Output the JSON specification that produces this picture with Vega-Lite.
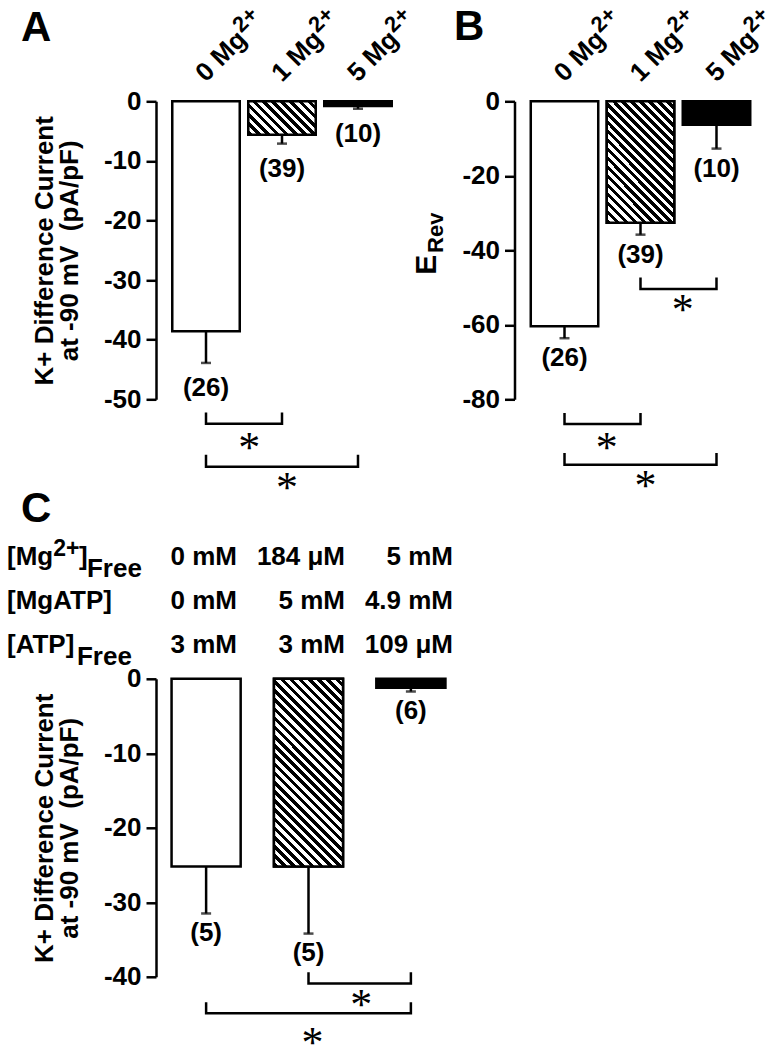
{
"$schema":"https://vega.github.io/schema/vega-lite/v6.json",
"background":"white",
"padding":{"left":7,"top":2.3,"right":0,"bottom":0},
"autosize":{"type":"pad"},
"config":{
 "view":{"stroke":null},
 "font":"Liberation Sans",
 "text":{"font":"Liberation Sans","fontWeight":"bold","fontSize":26,"color":"black"},
 "axis":{"domainColor":"black","domainWidth":2.5,"tickColor":"black","tickWidth":2.5,"tickSize":10,"labelFont":"Liberation Sans","labelFontWeight":"bold","labelFontSize":26,"labelColor":"black","labelPadding":5,"titleFont":"Liberation Sans","titleFontWeight":"bold","titleFontSize":26,"titleColor":"black","titleLineHeight":25,"titlePadding":21,"grid":false,"labelExpr":"'' + datum.value"},
 "title":{"font":"Liberation Sans","fontWeight":"bold","fontSize":42,"color":"black","anchor":"start","frame":"group","offset":0,"baseline":"alphabetic"}
},
"datasets":{
 "barsA":[{"c":"0 Mg","v":-38.6,"lo":-43.9,"n":"(26)"},{"c":"1 Mg","v":-5.6,"lo":-7.1,"n":"(39)"},{"c":"5 Mg","v":-0.8,"lo":-1.25,"n":"(10)"}],
 "barsB":[{"c":"0 Mg","v":-60.4,"lo":-63.6,"n":"(26)"},{"c":"1 Mg","v":-32.6,"lo":-35.8,"n":"(39)"},{"c":"5 Mg","v":-6.3,"lo":-12.7,"n":"(10)"}],
 "barsC":[{"c":"0 mM","v":-25.2,"lo":-31.5,"n":"(5)"},{"c":"184 μM","v":-25.2,"lo":-34.2,"n":"(5)"},{"c":"5 mM","v":-1.2,"lo":-1.7,"n":"(6)"}],
 "brA":[{"id":"a1","o":1,"c":"0 Mg","v":-52.2},{"id":"a1","o":2,"c":"0 Mg","v":-54.1},{"id":"a1","o":3,"c":"1 Mg","v":-54.1},{"id":"a1","o":4,"c":"1 Mg","v":-52.2},
        {"id":"a2","o":1,"c":"0 Mg","v":-59.3},{"id":"a2","o":2,"c":"0 Mg","v":-61.3},{"id":"a2","o":3,"c":"5 Mg","v":-61.3},{"id":"a2","o":4,"c":"5 Mg","v":-59.3}],
 "brB":[{"id":"b1","o":1,"c":"0 Mg","v":-83.7},{"id":"b1","o":2,"c":"0 Mg","v":-86.6},{"id":"b1","o":3,"c":"1 Mg","v":-86.6},{"id":"b1","o":4,"c":"1 Mg","v":-83.7},
        {"id":"b2","o":1,"c":"0 Mg","v":-94.4},{"id":"b2","o":2,"c":"0 Mg","v":-97.6},{"id":"b2","o":3,"c":"5 Mg","v":-97.6},{"id":"b2","o":4,"c":"5 Mg","v":-94.4},
        {"id":"b3","o":1,"c":"1 Mg","v":-47.3},{"id":"b3","o":2,"c":"1 Mg","v":-50.4},{"id":"b3","o":3,"c":"5 Mg","v":-50.4},{"id":"b3","o":4,"c":"5 Mg","v":-47.3}],
 "brC":[{"id":"c1","o":1,"c":"184 μM","v":-39.4},{"id":"c1","o":2,"c":"184 μM","v":-40.9},{"id":"c1","o":3,"c":"5 mM","v":-40.9},{"id":"c1","o":4,"c":"5 mM","v":-39.4},
        {"id":"c2","o":1,"c":"0 mM","v":-43.4},{"id":"c2","o":2,"c":"0 mM","v":-44.9},{"id":"c2","o":3,"c":"5 mM","v":-44.9},{"id":"c2","o":4,"c":"5 mM","v":-43.4}],
 "stA":[{"c":"1 Mg","v":-57.1,"k":"adj"},{"c":"1 Mg","v":-63.7,"k":"wide"}],
 "stB":[{"c":"1 Mg","v":-91.4,"k":"adj"},{"c":"1 Mg","v":-101.6,"k":"wide"},{"c":"5 Mg","v":-54.1,"k":"adj"}],
 "stC":[{"c":"5 mM","v":-42.9,"k":"adj"},{"c":"184 μM","v":-48.0,"k":"wide"}],
 "tableC":[{"c":"0 mM","row":"Mg","t":"0 mM"},{"c":"184 μM","row":"Mg","t":"184 μM"},{"c":"5 mM","row":"Mg","t":"5 mM"},
           {"c":"0 mM","row":"MgATP","t":"0 mM"},{"c":"184 μM","row":"MgATP","t":"5 mM"},{"c":"5 mM","row":"MgATP","t":"4.9 mM"},
           {"c":"0 mM","row":"ATP","t":"3 mM"},{"c":"184 μM","row":"ATP","t":"3 mM"},{"c":"5 mM","row":"ATP","t":"109 μM"}],
 "rowC":[{"c":"0 mM","row":"Mg","part":"main","t":"[Mg"},{"c":"0 mM","row":"Mg","part":"sup","t":"2+"},{"c":"0 mM","row":"Mg","part":"close","t":"]"},{"c":"0 mM","row":"Mg","part":"sub","t":"Free"},
         {"c":"0 mM","row":"MgATP","part":"main","t":"[MgATP]"},{"c":"0 mM","row":"ATP","part":"main","t":"[ATP]"},{"c":"0 mM","row":"ATP","part":"sub","t":"Free"}]
},
"columns":2,
"bounds":"flush",
"align":"none",
"spacing":{"row":279.5,"column":53.5},
"concat":[
 {
  "width":252,"height":298,
  "title":{"text":"A","dx":-135,"dy":51.3},
  "layer":[
   {"data":{"name":"barsA"},"mark":{"type":"bar","stroke":"black","strokeWidth":2.5},
    "encoding":{
     "x":{"field":"c","type":"nominal","scale":{"type":"band","domain":["0 Mg","1 Mg","5 Mg"],"paddingInner":0.112,"paddingOuter":0.214},"axis":null},
     "y":{"field":"v","type":"quantitative","scale":{"domain":[-50,0],"nice":false},"axis":{"values":[-50,-40,-30,-20,-10,0],"title":["K+ Difference Current","at -90 mV\u00a0 (pA/pF)"]}},
     "fill":{"condition":{"test":"datum.c === '5 Mg'","value":"black"},"value":"white"}}},
   {"data":{"name":"barsA"},"transform":[{"filter":"datum.c === '1 Mg'"}],
    "mark":{"type":"bar","stroke":"black","strokeWidth":2.5,"fill":{"gradient":"linear","x1":0,"y1":1,"x2":1.2008,"y2":0.4058,"stops":[
{"offset":0,"color":"#000"},{"offset":0.0455,"color":"#000"},{"offset":0.0455,"color":"#fff"},{"offset":0.0909,"color":"#fff"},
{"offset":0.0909,"color":"#000"},{"offset":0.1364,"color":"#000"},{"offset":0.1364,"color":"#fff"},{"offset":0.1818,"color":"#fff"},
{"offset":0.1818,"color":"#000"},{"offset":0.2273,"color":"#000"},{"offset":0.2273,"color":"#fff"},{"offset":0.2727,"color":"#fff"},
{"offset":0.2727,"color":"#000"},{"offset":0.3182,"color":"#000"},{"offset":0.3182,"color":"#fff"},{"offset":0.3636,"color":"#fff"},
{"offset":0.3636,"color":"#000"},{"offset":0.4091,"color":"#000"},{"offset":0.4091,"color":"#fff"},{"offset":0.4545,"color":"#fff"},
{"offset":0.4545,"color":"#000"},{"offset":0.5,"color":"#000"},{"offset":0.5,"color":"#fff"},{"offset":0.5455,"color":"#fff"},
{"offset":0.5455,"color":"#000"},{"offset":0.5909,"color":"#000"},{"offset":0.5909,"color":"#fff"},{"offset":0.6364,"color":"#fff"},
{"offset":0.6364,"color":"#000"},{"offset":0.6818,"color":"#000"},{"offset":0.6818,"color":"#fff"},{"offset":0.7273,"color":"#fff"},
{"offset":0.7273,"color":"#000"},{"offset":0.7727,"color":"#000"},{"offset":0.7727,"color":"#fff"},{"offset":0.8182,"color":"#fff"},
{"offset":0.8182,"color":"#000"},{"offset":0.8636,"color":"#000"},{"offset":0.8636,"color":"#fff"},{"offset":0.9091,"color":"#fff"},
{"offset":0.9091,"color":"#000"},{"offset":0.9545,"color":"#000"},{"offset":0.9545,"color":"#fff"},{"offset":1,"color":"#fff"}]}},
    "encoding":{"x":{"field":"c","type":"nominal"},"y":{"field":"v","type":"quantitative"}}},
   {"data":{"name":"barsA"},"mark":{"type":"rule","strokeWidth":2.5,"color":"black"},"encoding":{"x":{"field":"c","type":"nominal"},"y":{"field":"v","type":"quantitative"},"y2":{"field":"lo"}}},
   {"data":{"name":"barsA"},"mark":{"type":"tick","size":10,"thickness":2.5,"color":"black"},"encoding":{"x":{"field":"c","type":"nominal"},"y":{"field":"lo","type":"quantitative"}}},
   {"data":{"name":"barsA"},"mark":{"type":"text","baseline":"top","dy":12},"encoding":{"x":{"field":"c","type":"nominal"},"y":{"field":"lo","type":"quantitative"},"text":{"field":"n"}}},
   {"data":{"name":"brA"},"mark":{"type":"line","strokeWidth":2.5,"color":"black","strokeJoin":"miter"},"encoding":{"x":{"field":"c","type":"nominal"},"y":{"field":"v","type":"quantitative"},"detail":{"field":"id"},"order":{"field":"o"}}},
   {"data":{"name":"stA"},"transform":[{"filter":"datum.k === 'adj'"}],"mark":{"type":"text","font":"Liberation Serif","fontWeight":"normal","fontSize":44,"baseline":"alphabetic","dy":20.7,"dx":1},"encoding":{"x":{"field":"c","type":"nominal","bandPosition":0},"y":{"field":"v","type":"quantitative"},"text":{"value":"*"}}},
   {"data":{"name":"stA"},"transform":[{"filter":"datum.k === 'wide'"}],"mark":{"type":"text","font":"Liberation Serif","fontWeight":"normal","fontSize":44,"baseline":"alphabetic","dy":20.7,"dx":5},"encoding":{"x":{"field":"c","type":"nominal"},"y":{"field":"v","type":"quantitative"},"text":{"value":"*"}}},
   {"data":{"name":"barsA"},"mark":{"type":"text","angle":315,"align":"left","baseline":"alphabetic","fontSize":26,"dx":13,"dy":-13},"encoding":{"x":{"field":"c","type":"nominal"},"y":{"datum":0,"type":"quantitative"},"text":{"field":"c"}}},
   {"data":{"name":"barsA"},"mark":{"type":"text","angle":315,"align":"left","baseline":"alphabetic","fontSize":22,"dx":73,"dy":-23},"encoding":{"x":{"field":"c","type":"nominal"},"y":{"datum":0,"type":"quantitative"},"text":{"value":"2+"}}}
  ]
 },
 {
  "width":252,"height":298,
  "title":{"text":"B","dx":-60.5,"dy":50.3},
  "layer":[
   {"data":{"name":"barsB"},"mark":{"type":"bar","stroke":"black","strokeWidth":2.5},
    "encoding":{
     "x":{"field":"c","type":"nominal","scale":{"type":"band","domain":["0 Mg","1 Mg","5 Mg"],"paddingInner":0.112,"paddingOuter":0.214},"axis":null},
     "y":{"field":"v","type":"quantitative","scale":{"domain":[-80,0],"nice":false},"axis":{"values":[-80,-60,-40,-20,0],"title":null}},
     "fill":{"condition":{"test":"datum.c === '5 Mg'","value":"black"},"value":"white"}}},
   {"data":{"name":"barsB"},"transform":[{"filter":"datum.c === '1 Mg'"}],
    "mark":{"type":"bar","stroke":"black","strokeWidth":2.5,"fill":{"gradient":"linear","x1":0,"y1":1,"x2":0.6609,"y2":-0.1886,"stops":[
{"offset":0,"color":"#000"},{"offset":0.0238,"color":"#000"},{"offset":0.0238,"color":"#fff"},{"offset":0.0476,"color":"#fff"},
{"offset":0.0476,"color":"#000"},{"offset":0.0714,"color":"#000"},{"offset":0.0714,"color":"#fff"},{"offset":0.0952,"color":"#fff"},
{"offset":0.0952,"color":"#000"},{"offset":0.1190,"color":"#000"},{"offset":0.1190,"color":"#fff"},{"offset":0.1429,"color":"#fff"},
{"offset":0.1429,"color":"#000"},{"offset":0.1667,"color":"#000"},{"offset":0.1667,"color":"#fff"},{"offset":0.1905,"color":"#fff"},
{"offset":0.1905,"color":"#000"},{"offset":0.2143,"color":"#000"},{"offset":0.2143,"color":"#fff"},{"offset":0.2381,"color":"#fff"},
{"offset":0.2381,"color":"#000"},{"offset":0.2619,"color":"#000"},{"offset":0.2619,"color":"#fff"},{"offset":0.2857,"color":"#fff"},
{"offset":0.2857,"color":"#000"},{"offset":0.3095,"color":"#000"},{"offset":0.3095,"color":"#fff"},{"offset":0.3333,"color":"#fff"},
{"offset":0.3333,"color":"#000"},{"offset":0.3571,"color":"#000"},{"offset":0.3571,"color":"#fff"},{"offset":0.3810,"color":"#fff"},
{"offset":0.3810,"color":"#000"},{"offset":0.4048,"color":"#000"},{"offset":0.4048,"color":"#fff"},{"offset":0.4286,"color":"#fff"},
{"offset":0.4286,"color":"#000"},{"offset":0.4524,"color":"#000"},{"offset":0.4524,"color":"#fff"},{"offset":0.4762,"color":"#fff"},
{"offset":0.4762,"color":"#000"},{"offset":0.5,"color":"#000"},{"offset":0.5,"color":"#fff"},{"offset":0.5238,"color":"#fff"},
{"offset":0.5238,"color":"#000"},{"offset":0.5476,"color":"#000"},{"offset":0.5476,"color":"#fff"},{"offset":0.5714,"color":"#fff"},
{"offset":0.5714,"color":"#000"},{"offset":0.5952,"color":"#000"},{"offset":0.5952,"color":"#fff"},{"offset":0.6190,"color":"#fff"},
{"offset":0.6190,"color":"#000"},{"offset":0.6429,"color":"#000"},{"offset":0.6429,"color":"#fff"},{"offset":0.6667,"color":"#fff"},
{"offset":0.6667,"color":"#000"},{"offset":0.6905,"color":"#000"},{"offset":0.6905,"color":"#fff"},{"offset":0.7143,"color":"#fff"},
{"offset":0.7143,"color":"#000"},{"offset":0.7381,"color":"#000"},{"offset":0.7381,"color":"#fff"},{"offset":0.7619,"color":"#fff"},
{"offset":0.7619,"color":"#000"},{"offset":0.7857,"color":"#000"},{"offset":0.7857,"color":"#fff"},{"offset":0.8095,"color":"#fff"},
{"offset":0.8095,"color":"#000"},{"offset":0.8333,"color":"#000"},{"offset":0.8333,"color":"#fff"},{"offset":0.8571,"color":"#fff"},
{"offset":0.8571,"color":"#000"},{"offset":0.8810,"color":"#000"},{"offset":0.8810,"color":"#fff"},{"offset":0.9048,"color":"#fff"},
{"offset":0.9048,"color":"#000"},{"offset":0.9286,"color":"#000"},{"offset":0.9286,"color":"#fff"},{"offset":0.9524,"color":"#fff"},
{"offset":0.9524,"color":"#000"},{"offset":0.9762,"color":"#000"},{"offset":0.9762,"color":"#fff"},{"offset":1,"color":"#fff"}]}},
    "encoding":{"x":{"field":"c","type":"nominal"},"y":{"field":"v","type":"quantitative"}}},
   {"data":{"name":"barsB"},"mark":{"type":"rule","strokeWidth":2.5,"color":"black"},"encoding":{"x":{"field":"c","type":"nominal"},"y":{"field":"v","type":"quantitative"},"y2":{"field":"lo"}}},
   {"data":{"name":"barsB"},"mark":{"type":"tick","size":10,"thickness":2.5,"color":"black"},"encoding":{"x":{"field":"c","type":"nominal"},"y":{"field":"lo","type":"quantitative"}}},
   {"data":{"name":"barsB"},"mark":{"type":"text","baseline":"top","dy":7},"encoding":{"x":{"field":"c","type":"nominal"},"y":{"field":"lo","type":"quantitative"},"text":{"field":"n"}}},
   {"data":{"name":"brB"},"mark":{"type":"line","strokeWidth":2.5,"color":"black","strokeJoin":"miter"},"encoding":{"x":{"field":"c","type":"nominal"},"y":{"field":"v","type":"quantitative"},"detail":{"field":"id"},"order":{"field":"o"}}},
   {"data":{"name":"stB"},"transform":[{"filter":"datum.k === 'adj'"}],"mark":{"type":"text","font":"Liberation Serif","fontWeight":"normal","fontSize":44,"baseline":"alphabetic","dy":20.7,"dx":0},"encoding":{"x":{"field":"c","type":"nominal","bandPosition":0},"y":{"field":"v","type":"quantitative"},"text":{"value":"*"}}},
   {"data":{"name":"stB"},"transform":[{"filter":"datum.k === 'wide'"}],"mark":{"type":"text","font":"Liberation Serif","fontWeight":"normal","fontSize":44,"baseline":"alphabetic","dy":20.7,"dx":5},"encoding":{"x":{"field":"c","type":"nominal"},"y":{"field":"v","type":"quantitative"},"text":{"value":"*"}}},
   {"data":{"name":"barsB"},"mark":{"type":"text","angle":315,"align":"left","baseline":"alphabetic","fontSize":26,"dx":13,"dy":-13},"encoding":{"x":{"field":"c","type":"nominal"},"y":{"datum":0,"type":"quantitative"},"text":{"field":"c"}}},
   {"data":{"name":"barsB"},"mark":{"type":"text","angle":315,"align":"left","baseline":"alphabetic","fontSize":22,"dx":73,"dy":-23},"encoding":{"x":{"field":"c","type":"nominal"},"y":{"datum":0,"type":"quantitative"},"text":{"value":"2+"}}},
   {"data":{"values":[{"t":"E"}]},"mark":{"type":"text","angle":270,"align":"center","baseline":"middle","fontSize":30,"dy":-137.3},"encoding":{"x":{"datum":"0 Mg","type":"nominal"},"y":{"datum":-43.9,"type":"quantitative"},"text":{"field":"t"}}},
   {"data":{"values":[{"t":"Rev"}]},"mark":{"type":"text","angle":270,"align":"center","baseline":"middle","fontSize":22,"dy":-128.5},"encoding":{"x":{"datum":"0 Mg","type":"nominal"},"y":{"datum":-35.3,"type":"quantitative"},"text":{"field":"t"}}}
  ]
 },
 {
  "width":305,"height":298,
  "title":{"text":"C","dx":-135,"dy":-2.3},
  "resolve":{"scale":{"x":"independent","y":"independent"}},
  "layer":[
   {"layer":[
    {"data":{"name":"barsC"},"mark":{"type":"bar","stroke":"black","strokeWidth":2.5},
     "encoding":{
      "x":{"field":"c","type":"nominal","scale":{"type":"band","domain":["0 mM","184 μM","5 mM"],"paddingInner":0.325,"paddingOuter":0.152},"axis":null},
      "y":{"field":"v","type":"quantitative","scale":{"domain":[-40,0],"nice":false},"axis":{"values":[-40,-30,-20,-10,0],"title":["K+ Difference Current","at -90 mV\u00a0 (pA/pF)"]}},
      "fill":{"condition":{"test":"datum.c === '5 mM'","value":"black"},"value":"white"}}},
    {"data":{"name":"barsC"},"transform":[{"filter":"datum.c === '184 μM'"}],
     "mark":{"type":"bar","stroke":"black","strokeWidth":2.5,"fill":{"gradient":"linear","x1":0,"y1":1,"x2":0.4436,"y2":-0.2048,"stops":[
{"offset":0,"color":"#000"},{"offset":0.0179,"color":"#000"},{"offset":0.0179,"color":"#fff"},{"offset":0.0357,"color":"#fff"},
{"offset":0.0357,"color":"#000"},{"offset":0.0536,"color":"#000"},{"offset":0.0536,"color":"#fff"},{"offset":0.0714,"color":"#fff"},
{"offset":0.0714,"color":"#000"},{"offset":0.0893,"color":"#000"},{"offset":0.0893,"color":"#fff"},{"offset":0.1071,"color":"#fff"},
{"offset":0.1071,"color":"#000"},{"offset":0.125,"color":"#000"},{"offset":0.125,"color":"#fff"},{"offset":0.1429,"color":"#fff"},
{"offset":0.1429,"color":"#000"},{"offset":0.1607,"color":"#000"},{"offset":0.1607,"color":"#fff"},{"offset":0.1786,"color":"#fff"},
{"offset":0.1786,"color":"#000"},{"offset":0.1964,"color":"#000"},{"offset":0.1964,"color":"#fff"},{"offset":0.2143,"color":"#fff"},
{"offset":0.2143,"color":"#000"},{"offset":0.2321,"color":"#000"},{"offset":0.2321,"color":"#fff"},{"offset":0.25,"color":"#fff"},
{"offset":0.25,"color":"#000"},{"offset":0.2679,"color":"#000"},{"offset":0.2679,"color":"#fff"},{"offset":0.2857,"color":"#fff"},
{"offset":0.2857,"color":"#000"},{"offset":0.3036,"color":"#000"},{"offset":0.3036,"color":"#fff"},{"offset":0.3214,"color":"#fff"},
{"offset":0.3214,"color":"#000"},{"offset":0.3393,"color":"#000"},{"offset":0.3393,"color":"#fff"},{"offset":0.3571,"color":"#fff"},
{"offset":0.3571,"color":"#000"},{"offset":0.375,"color":"#000"},{"offset":0.375,"color":"#fff"},{"offset":0.3929,"color":"#fff"},
{"offset":0.3929,"color":"#000"},{"offset":0.4107,"color":"#000"},{"offset":0.4107,"color":"#fff"},{"offset":0.4286,"color":"#fff"},
{"offset":0.4286,"color":"#000"},{"offset":0.4464,"color":"#000"},{"offset":0.4464,"color":"#fff"},{"offset":0.4643,"color":"#fff"},
{"offset":0.4643,"color":"#000"},{"offset":0.4821,"color":"#000"},{"offset":0.4821,"color":"#fff"},{"offset":0.5,"color":"#fff"},
{"offset":0.5,"color":"#000"},{"offset":0.5179,"color":"#000"},{"offset":0.5179,"color":"#fff"},{"offset":0.5357,"color":"#fff"},
{"offset":0.5357,"color":"#000"},{"offset":0.5536,"color":"#000"},{"offset":0.5536,"color":"#fff"},{"offset":0.5714,"color":"#fff"},
{"offset":0.5714,"color":"#000"},{"offset":0.5893,"color":"#000"},{"offset":0.5893,"color":"#fff"},{"offset":0.6071,"color":"#fff"},
{"offset":0.6071,"color":"#000"},{"offset":0.625,"color":"#000"},{"offset":0.625,"color":"#fff"},{"offset":0.6429,"color":"#fff"},
{"offset":0.6429,"color":"#000"},{"offset":0.6607,"color":"#000"},{"offset":0.6607,"color":"#fff"},{"offset":0.6786,"color":"#fff"},
{"offset":0.6786,"color":"#000"},{"offset":0.6964,"color":"#000"},{"offset":0.6964,"color":"#fff"},{"offset":0.7143,"color":"#fff"},
{"offset":0.7143,"color":"#000"},{"offset":0.7321,"color":"#000"},{"offset":0.7321,"color":"#fff"},{"offset":0.75,"color":"#fff"},
{"offset":0.75,"color":"#000"},{"offset":0.7679,"color":"#000"},{"offset":0.7679,"color":"#fff"},{"offset":0.7857,"color":"#fff"},
{"offset":0.7857,"color":"#000"},{"offset":0.8036,"color":"#000"},{"offset":0.8036,"color":"#fff"},{"offset":0.8214,"color":"#fff"},
{"offset":0.8214,"color":"#000"},{"offset":0.8393,"color":"#000"},{"offset":0.8393,"color":"#fff"},{"offset":0.8571,"color":"#fff"},
{"offset":0.8571,"color":"#000"},{"offset":0.875,"color":"#000"},{"offset":0.875,"color":"#fff"},{"offset":0.8929,"color":"#fff"},
{"offset":0.8929,"color":"#000"},{"offset":0.9107,"color":"#000"},{"offset":0.9107,"color":"#fff"},{"offset":0.9286,"color":"#fff"},
{"offset":0.9286,"color":"#000"},{"offset":0.9464,"color":"#000"},{"offset":0.9464,"color":"#fff"},{"offset":0.9643,"color":"#fff"},
{"offset":0.9643,"color":"#000"},{"offset":0.9821,"color":"#000"},{"offset":0.9821,"color":"#fff"},{"offset":1,"color":"#fff"}]}},
     "encoding":{"x":{"field":"c","type":"nominal"},"y":{"field":"v","type":"quantitative"}}},
    {"data":{"name":"barsC"},"mark":{"type":"rule","strokeWidth":2.5,"color":"black"},"encoding":{"x":{"field":"c","type":"nominal"},"y":{"field":"v","type":"quantitative"},"y2":{"field":"lo"}}},
    {"data":{"name":"barsC"},"mark":{"type":"tick","size":10,"thickness":2.5,"color":"black"},"encoding":{"x":{"field":"c","type":"nominal"},"y":{"field":"lo","type":"quantitative"}}},
    {"data":{"name":"barsC"},"mark":{"type":"text","baseline":"top","dy":6.5},"encoding":{"x":{"field":"c","type":"nominal"},"y":{"field":"lo","type":"quantitative"},"text":{"field":"n"}}},
    {"data":{"name":"brC"},"mark":{"type":"line","strokeWidth":2.5,"color":"black","strokeJoin":"miter"},"encoding":{"x":{"field":"c","type":"nominal"},"y":{"field":"v","type":"quantitative"},"detail":{"field":"id"},"order":{"field":"o"}}},
    {"data":{"name":"stC"},"transform":[{"filter":"datum.k === 'adj'"}],"mark":{"type":"text","font":"Liberation Serif","fontWeight":"normal","fontSize":44,"baseline":"alphabetic","dy":20.7,"dx":-15},"encoding":{"x":{"field":"c","type":"nominal","bandPosition":0},"y":{"field":"v","type":"quantitative"},"text":{"value":"*"}}},
    {"data":{"name":"stC"},"transform":[{"filter":"datum.k === 'wide'"}],"mark":{"type":"text","font":"Liberation Serif","fontWeight":"normal","fontSize":44,"baseline":"alphabetic","dy":20.7,"dx":4},"encoding":{"x":{"field":"c","type":"nominal"},"y":{"field":"v","type":"quantitative"},"text":{"value":"*"}}}
   ]},
   {"layer":[
    {"data":{"name":"tableC"},"mark":{"type":"text","align":"right","baseline":"alphabetic","fontSize":26},
     "encoding":{
      "x":{"field":"c","type":"nominal","bandPosition":1,"scale":{"type":"band","domain":["0 mM","184 μM","5 mM"],"range":[-27,297],"paddingInner":0,"paddingOuter":0},"axis":null},
      "y":{"field":"row","type":"nominal","scale":{"type":"point","domain":["Mg","MgATP","ATP"],"range":[-114,-26],"padding":0},"axis":null},
      "text":{"field":"t"}}},
    {"data":{"name":"rowC"},"transform":[{"filter":"datum.part === 'main'"}],"mark":{"type":"text","align":"left","baseline":"alphabetic","fontSize":26,"dx":-122},
     "encoding":{"x":{"field":"c","type":"nominal","bandPosition":0},"y":{"field":"row","type":"nominal"},"text":{"field":"t"}}},
    {"data":{"name":"rowC"},"transform":[{"filter":"datum.part === 'sup'"}],"mark":{"type":"text","align":"left","baseline":"alphabetic","fontSize":23,"dx":-75.8,"dy":-9},
     "encoding":{"x":{"field":"c","type":"nominal","bandPosition":0},"y":{"field":"row","type":"nominal"},"text":{"field":"t"}}},
    {"data":{"name":"rowC"},"transform":[{"filter":"datum.part === 'close'"}],"mark":{"type":"text","align":"left","baseline":"alphabetic","fontSize":26,"dx":-50},
     "encoding":{"x":{"field":"c","type":"nominal","bandPosition":0},"y":{"field":"row","type":"nominal"},"text":{"field":"t"}}},
    {"data":{"name":"rowC"},"transform":[{"filter":"datum.part === 'sub' && datum.row === 'Mg'"}],"mark":{"type":"text","align":"left","baseline":"alphabetic","fontSize":26,"dx":-42,"dy":12},
     "encoding":{"x":{"field":"c","type":"nominal","bandPosition":0},"y":{"field":"row","type":"nominal"},"text":{"field":"t"}}},
    {"data":{"name":"rowC"},"transform":[{"filter":"datum.part === 'sub' && datum.row === 'ATP'"}],"mark":{"type":"text","align":"left","baseline":"alphabetic","fontSize":26,"dx":-52,"dy":12},
     "encoding":{"x":{"field":"c","type":"nominal","bandPosition":0},"y":{"field":"row","type":"nominal"},"text":{"field":"t"}}}
   ]}
  ]
 }
]
}
